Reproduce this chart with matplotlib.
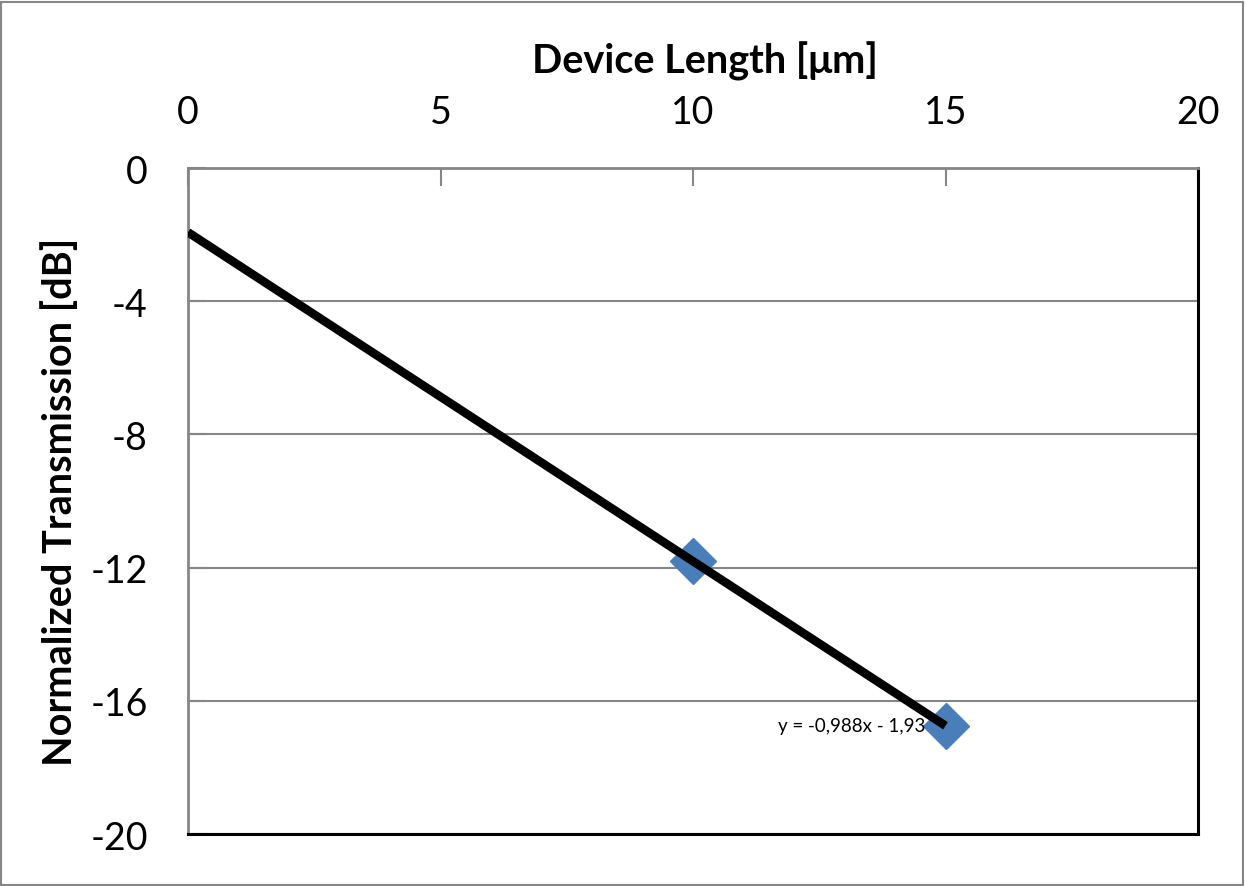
import matplotlib
matplotlib.use("Agg")
import matplotlib.pyplot as plt
import numpy as np
from matplotlib.patches import Rectangle

plt.rcParams['font.family'] = ['Lato', 'DejaVu Sans']

# Data
device_length = [10, 15]
transmission = [-11.8, -16.75]
slope = -0.988
intercept = -1.93
fit_x = [0, 15]
equation_label = "y = -0,988x - 1,93"
x_ticks = [0, 5, 10, 15, 20]
y_ticks = [0, -4, -8, -12, -16, -20]

W, H = 1245, 887
fig = plt.figure(figsize=(W / 100, H / 100), dpi=100)
ax = fig.add_axes([188 / W, 1 - 835 / H, (1198 - 188) / W, (835 - 169) / H])

gray = '#868686'
fx = np.array(fit_x, dtype=float)
ax.plot(fx, slope * fx + intercept, color='black', lw=6.2, solid_capstyle='butt', zorder=3)
ax.plot(device_length, transmission, linestyle='none', marker='D', markersize=23,
        color='#4a7ebb', markeredgecolor='#4a7ebb', zorder=2)

ax.text(device_length[1] - 0.4, transmission[1], equation_label, fontsize=13.5,
        ha='right', va='center', zorder=4)

ax.set_xlim(0, 20)
ax.set_ylim(-20, 0)
ax.set_xticks(x_ticks)
ax.set_yticks(y_ticks)
ax.set_yticklabels([f"{v}" for v in y_ticks])
ax.xaxis.tick_top()
ax.xaxis.set_label_position('top')
ax.tick_params(axis='x', direction='in', length=13, width=1.5, color=gray,
               labelsize=27, pad=27, top=True, bottom=False)
ax.tick_params(axis='y', direction='in', length=13, width=1.5, color=gray,
               labelsize=27, pad=29)
ax.grid(axis='y', color=gray, lw=1.5)
ax.set_axisbelow(True)

for s in ['top', 'left']:
    ax.spines[s].set_color(gray)
    ax.spines[s].set_linewidth(2)
for s in ['right', 'bottom']:
    ax.spines[s].set_color('black')
    ax.spines[s].set_linewidth(2.2)

ax.set_xlabel("Device Length [\u03bcm]", fontsize=28.5, fontweight='bold', labelpad=16)
ax.xaxis.label.set_x(0.512)
ax.set_ylabel("Normalized Transmission [dB]", fontsize=28.5, fontweight='bold', labelpad=8)

fig.patches.append(Rectangle((1 / W, 1 / H), 1 - 3 / W, 1 - 4 / H, transform=fig.transFigure,
                             fill=False, edgecolor=gray, lw=1.5))

fig.savefig("out.png", dpi=100)
